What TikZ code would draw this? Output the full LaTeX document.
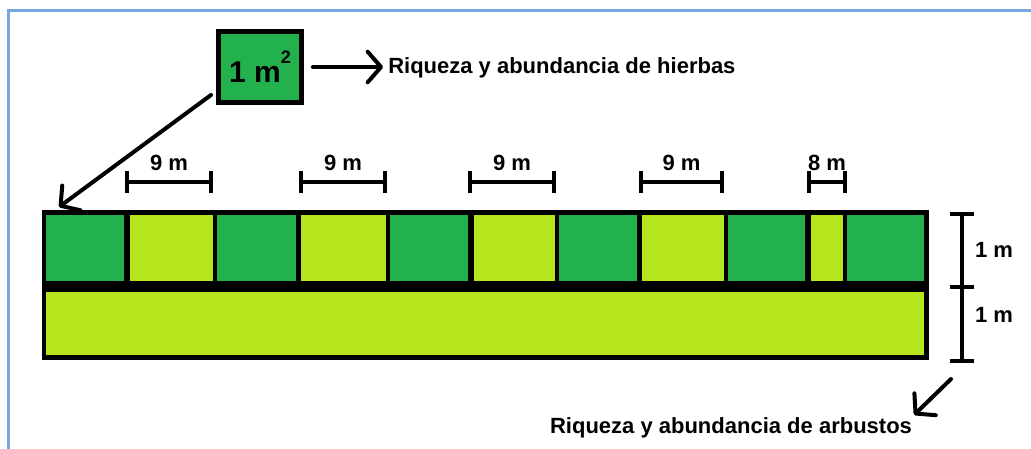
\documentclass[tikz,border=0pt]{standalone}
\usepackage{fontspec}
\setmainfont{Liberation Sans}
\usetikzlibrary{arrows.meta,positioning}
\pgfdeclarelayer{bg}
\pgfsetlayers{bg,main}
\definecolor{hierba}{HTML}{22B14C}
\definecolor{lima}{HTML}{B5E61D}
\definecolor{marco}{HTML}{76A8DE}
\tikzset{
        txt/.style={font=\fontsize{16.5}{20}\selectfont\bfseries, inner sep=0pt},
        square/.style={draw, line width=3.5pt, fill=hierba, minimum width=62.25pt, minimum height=53.25pt, inner sep=0pt, font=\fontsize{22.5}{26}\selectfont\bfseries},
        cell/.style={inner sep=0pt, minimum height=49.5pt},
        arr/.style={line width=3pt, line cap=round, -{Straight Barb[length=10pt,width=23pt,line width=3pt,round]}},
        dimbar/.style={line width=3pt, {Bar[width=16pt,line width=3.2pt]}-{Bar[width=16pt,line width=3.2pt]}},
        vdimbar/.style={line width=3pt, {Bar[width=18pt,line width=3.2pt]}-{Bar[width=18pt,line width=3.2pt]}},
        dimlabel/.style={txt, above=6.75pt}
}
\begin{document}
\begin{tikzpicture}[x=0.75pt, y=-0.75pt]
        \useasboundingbox (0,0) rectangle (1031,449);
        \draw [marco, line width=1.6pt] (8.5,449) -- (8.5,10.5) -- (1031,10.5);
        \node (q) [square] at (260,67) {1 m\raisebox{14pt}{\fontsize{13.5}{14}\selectfont 2}};
        \node (t1) [txt, anchor=base west] at (388,74) {Riqueza y abundancia de hierbas};
        \node (t2) [txt, anchor=base] at (731,433) {Riqueza y abundancia de arbustos};
        \node (c1) [cell, fill=hierba, minimum width=58.5pt] at (85,248) {};
        \node (c2) [cell, fill=lima, minimum width=62.25pt] at (171.5,248) {};
        \node (c3) [cell, fill=hierba, minimum width=59.25pt] at (256.5,248) {};
        \node (c4) [cell, fill=lima, minimum width=63.75pt] at (343.5,248) {};
        \node (c5) [cell, fill=hierba, minimum width=58.5pt] at (429,248) {};
        \node (c6) [cell, fill=lima, minimum width=60.75pt] at (514.5,248) {};
        \node (c7) [cell, fill=hierba, minimum width=58.5pt] at (598,248) {};
        \node (c8) [cell, fill=lima, minimum width=61.5pt] at (683,248) {};
        \node (c9) [cell, fill=hierba, minimum width=57.75pt] at (766.5,248) {};
        \node (c10) [cell, fill=lima, minimum width=24pt] at (827,248) {};
        \node (c11) [cell, fill=hierba, minimum width=57.75pt] at (885.5,248) {};
        \node (b) [cell, fill=lima, minimum width=658.5pt, minimum height=47.25pt] at (485,323.5) {};
        \coordinate (d1l) at (125,182);
        \coordinate (d1r) at (213,182);
        \coordinate (d2l) at (299,182);
        \coordinate (d2r) at (387,182);
        \coordinate (d3l) at (468,182);
        \coordinate (d3r) at (556,182);
        \coordinate (d4l) at (639,182);
        \coordinate (d4r) at (724,182);
        \coordinate (d5l) at (807,182);
        \coordinate (d5r) at (847,182);
        \coordinate (h0) at (962,212);
        \coordinate (h2) at (962,363);
        \coordinate (h1l) at (950,287);
        \coordinate (h1r) at (974,287);
        \coordinate (p0) at (211,95);
        \coordinate (p1) at (59,207);
        \coordinate (p2) at (951,379);
        \begin{pgfonlayer}{bg}
                \fill (42,210) rectangle (929,360);
        \end{pgfonlayer}
        \draw (q.east) edge [arr, shorten <=6.75pt, shorten >=3.75pt] (q.east -| t1.west);
        \draw (p0) edge [arr] (p1);
        \draw (p2) edge [arr, shorten >=2pt] (t2.north east);
        \draw (d1l) edge [dimbar] node [dimlabel] {9 m} (d1r);
        \draw (d2l) edge [dimbar] node [dimlabel] {9 m} (d2r);
        \draw (d3l) edge [dimbar] node [dimlabel] {9 m} (d3r);
        \draw (d4l) edge [dimbar] node [dimlabel] {9 m} (d4r);
        \draw (d5l) edge [dimbar] node [dimlabel] {8 m} (d5r);
        \draw (h0) edge [vdimbar] node [txt, right=8.25pt, pos=0.25] {1 m} node [txt, right=8.25pt, pos=0.68] {1 m} (h2);
        \draw (h1l) edge [line width=3.2pt] (h1r);
\end{tikzpicture}
\end{document}
